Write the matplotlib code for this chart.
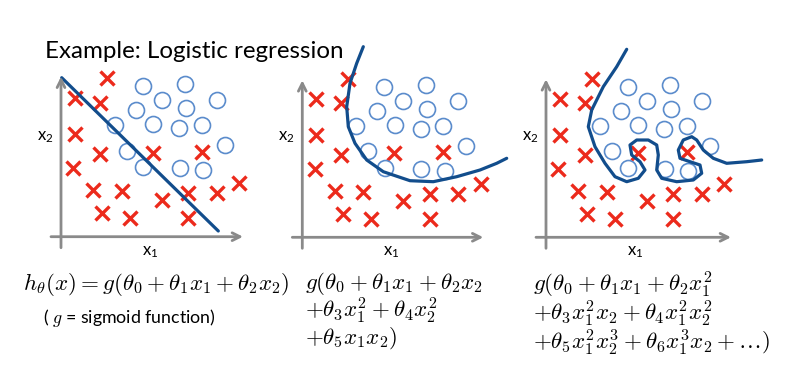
import numpy as np
import matplotlib
matplotlib.use('Agg')
import matplotlib.pyplot as plt

# figure size in pixels
W, H = 805, 368

# sample points (offset in px from the axes origin, y upwards)
cross_x = [45.7, 14, 39, 14, 39, 12.3, 91.7, 140.7, 178.3, 32.3, 60.7, 100.7, 127.3, 155.7, 40.7, 69, 127.3]
cross_y = [158.4, 138.4, 134, 102.7, 82.7, 68.4, 84, 85, 53.4, 46.7, 45.7, 36.7, 43.4, 43.4, 23.4, 18.4, 18.4]

circ_x = [81.7, 124, 100.7, 155.7, 75, 125, 54, 92.3, 118.3, 140.7, 65.7, 164, 82.3, 119, 142.3]
circ_y = [150.7, 152.7, 136.7, 136.7, 126.7, 128.4, 111.7, 112.4, 108.4, 111.7, 86, 91.7, 69.4, 68.4, 66.7]

# decision boundaries, hand traced
lin_x = [0.7, 157.3]
lin_y = [159, 5.7]

quad_x = [61, 54.4, 47.7, 44.4, 46, 52.7, 64.4, 81, 107.7, 131, 154.4, 177.7, 194.4, 204.4]
quad_y = [190.6, 174, 154, 130.6, 110.6, 94, 77.3, 65.6, 56.6, 55.6, 60.6, 67.3, 74, 79]

wig_x = [80.7, 70.7, 57.3, 45.7, 42.3, 49, 59, 69, 80.7, 92.3, 99, 94, 85.7, 84, 90.7, 102.3,
         110.7, 112.3, 110.7, 115.7, 130.7, 147.3, 155.7, 154, 144, 134, 132.3, 137.3, 145.7,
         150.7, 157.3, 167.3, 180.7, 200.7, 215.7]
wig_y = [188, 170.6, 150.6, 127.3, 110.6, 90.6, 74, 60.6, 55.6, 59, 67.3, 75.6, 82.3, 92.3, 97.3, 97.3,
         92.3, 82.3, 67.3, 59, 55.6, 57.3, 64, 72.3, 75.6, 79, 87.3, 97.3, 100.6,
         97.3, 87.3, 79, 74, 75.6, 77.3]

# hypothesis text under each panel
lines1 = [r'$h_\theta(x) = g(\theta_0 + \theta_1 x_1 + \theta_2 x_2)$']
lines2 = [r'$g(\theta_0 + \theta_1 x_1 + \theta_2 x_2$',
	r'$+\theta_3 x_1^2 + \theta_4 x_2^2$',
	r'$+\theta_5 x_1 x_2)$']
lines3 = [r'$g(\theta_0 + \theta_1 x_1 + \theta_2 x_1^2$',
	r'$+\theta_3 x_1^2 x_2 + \theta_4 x_1^2 x_2^2$',
	r'$+\theta_5 x_1^2 x_2^3 + \theta_6 x_1^3 x_2 + \ldots)$']

# axes origins in figure pixels (from top-left)
origins = [(61, 236.7), (302.3, 237.3), (546, 237.3)]
ax_len = [(182, 160), (181, 157), (185, 158)]
boundaries = [(lin_x, lin_y), (quad_x, quad_y), (wig_x, wig_y)]

red = '#ec2a1c'
blue = '#5b8ccc'
dark = '#124d8c'
gray = '#8a8a8a'

plt.rcParams['mathtext.fontset'] = 'cm'

fig = plt.figure(figsize=(W / 100, H / 100), dpi=100)

lo, hi = -30, 230
for (ox, oy), (lx, ly), (bx, by) in zip(origins, ax_len, boundaries):
	ax = fig.add_axes([(ox + lo) / W, (H - oy + lo) / H, (hi - lo) / W, (hi - lo) / H])
	ax.set_xlim(lo, hi)
	ax.set_ylim(lo, hi)
	ax.axis('off')

	# arrows for the axes
	ax.annotate('', xy=(lx, 0), xytext=(-10, 0),
		arrowprops=dict(arrowstyle='->', color=gray, lw=2, mutation_scale=14, shrinkA=0, shrinkB=0))
	ax.annotate('', xy=(0, ly), xytext=(0, -11),
		arrowprops=dict(arrowstyle='->', color=gray, lw=2, mutation_scale=14, shrinkA=0, shrinkB=0))

	ax.plot(cross_x, cross_y, 'x', ms=10.5, mew=2.4, color=red, linestyle='none')
	ax.plot(circ_x, circ_y, 'o', ms=11.5, mew=1.2, mfc='none', mec=blue, linestyle='none')
	ax.plot(bx, by, color=dark, lw=2.3, solid_capstyle='round', solid_joinstyle='round', clip_on=False)

	ax.text(-16, 100, r'$\mathregular{x_2}$', fontsize=12, family='Lato', ha='center', va='center')
	ax.text(89, -15, r'$\mathregular{x_1}$', fontsize=12, family='Lato', ha='center', va='center')

def put(x, y, s, **kw):
	fig.text(x / W, 1 - y / H, s, **kw)

put(45, 57.5, 'Example: Logistic regression', fontsize=17.4, family='Lato', va='baseline')

put(23, 290, lines1[0], fontsize=16.6, va='baseline')
put(43, 323, r'( $g$ = sigmoid function)', fontsize=12.8, family='Lato', va='baseline')

# one text block per panel, tight line spacing as in the slide
put(305, 270, '\n'.join(lines2), fontsize=16.6, va='top', linespacing=0.95)
put(533, 270, '\n'.join(lines3), fontsize=16.6, va='top', linespacing=0.95)

fig.savefig('out.png', dpi=100)
